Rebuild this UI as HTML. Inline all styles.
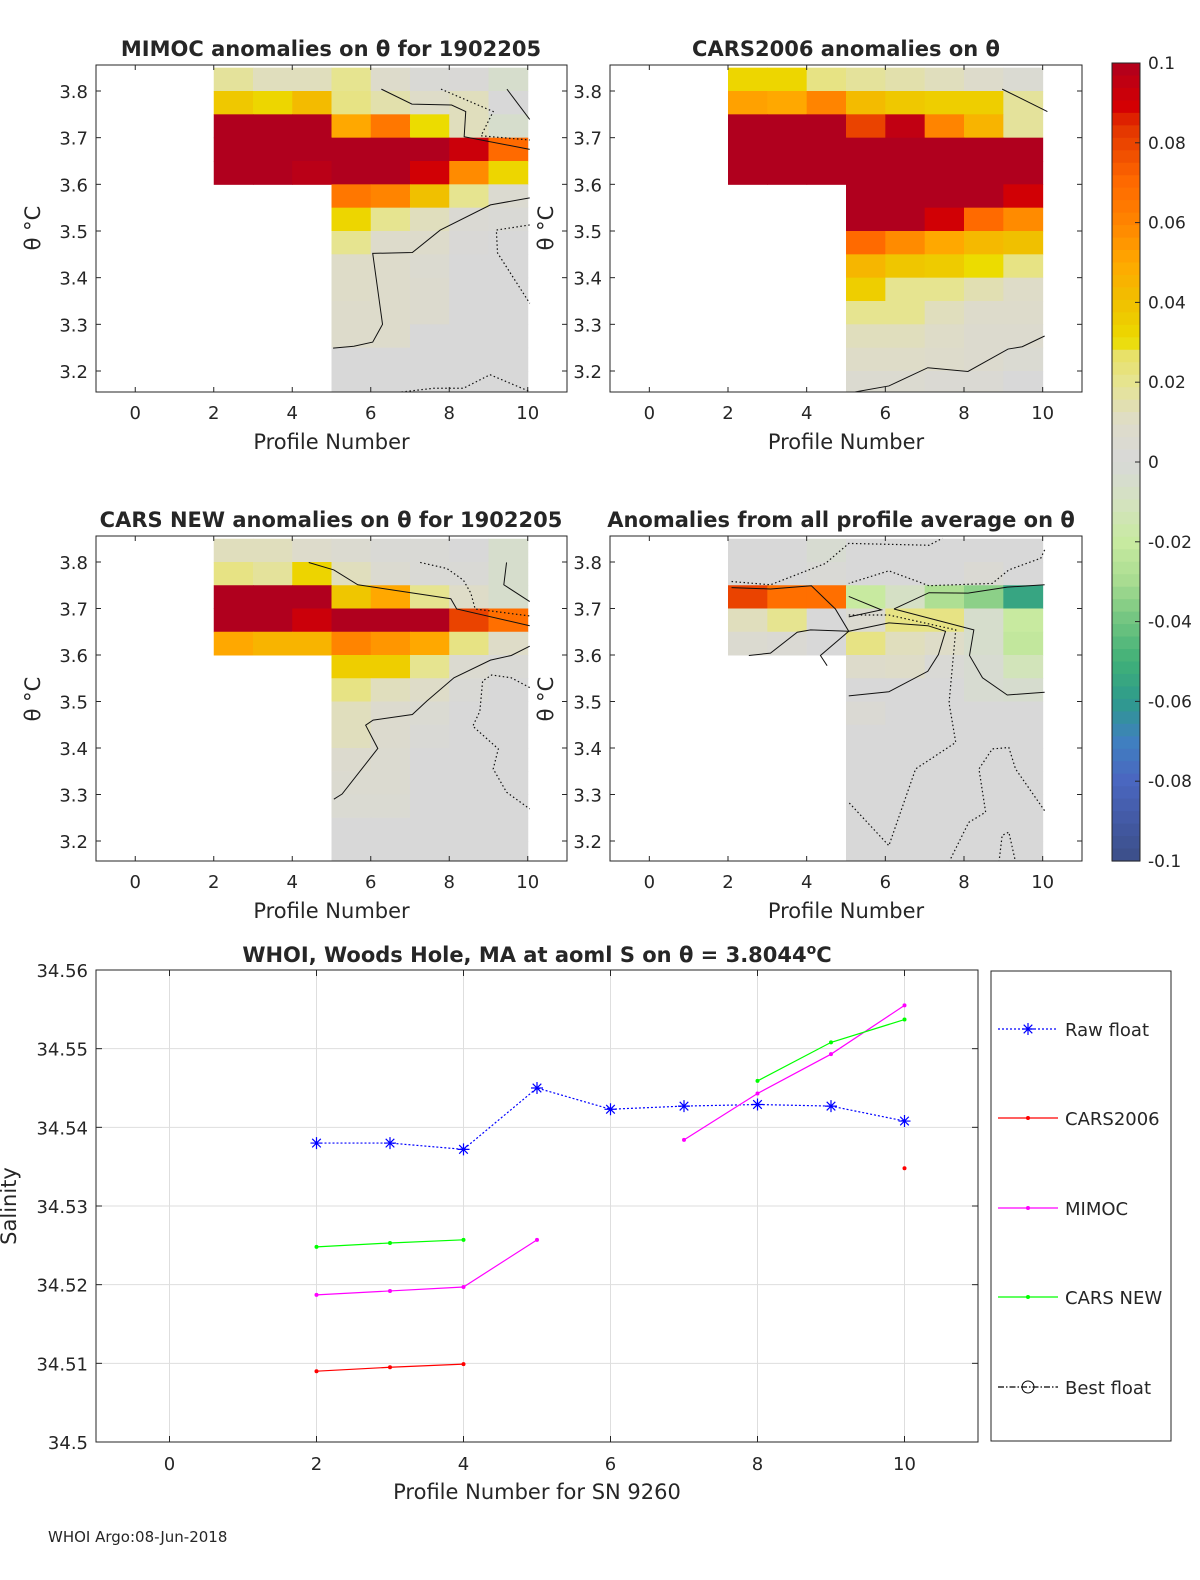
<!DOCTYPE html>
<html><head><meta charset="utf-8"><style>
body{margin:0;background:#fff;width:1200px;height:1575px;overflow:hidden}
svg text{font-family:"DejaVu Sans","Liberation Sans",sans-serif;fill:#262626}
</style></head><body>
<svg id="fig" width="1200" height="1575" viewBox="0 0 1200 1575" xmlns="http://www.w3.org/2000/svg"></svg>
<script>
// ---------- data ----------
const N = null;
const rowTops = [3.85,3.80,3.75,3.70,3.65,3.60,3.55,3.50,3.45,3.40,3.35,3.30,3.25,3.20];
const colStarts = [2,3,4,5,6,7,8,9];
const mimocVals = [
 [0.018,0.012,0.012,0.02,0.008,0.002,0.001,-0.005],
 [0.037,0.032,0.042,0.022,0.015,0.01,0.012,0.0],
 [0.1,0.1,0.1,0.05,0.065,0.03,0.012,-0.005],
 [0.1,0.1,0.1,0.1,0.1,0.1,0.092,0.07],
 [0.1,0.1,0.097,0.1,0.1,0.09,0.058,0.032],
 [N,N,N,0.065,0.06,0.04,0.02,0.005],
 [N,N,N,0.032,0.02,0.012,0.003,0.002],
 [N,N,N,0.02,0.008,0.008,0.001,0.0],
 [N,N,N,0.01,0.008,0.005,0.0,0.0],
 [N,N,N,0.01,0.008,0.006,0.0,0.0],
 [N,N,N,0.008,0.008,0.006,0.0,0.0],
 [N,N,N,0.008,0.008,0.0,0.0,0.0],
 [N,N,N,0.0,0.0,0.0,0.0,0.0],
 [N,N,N,0.0,0.0,0.0,0.0,0.0]];
const cars06Vals = [
 [0.032,0.032,0.022,0.018,0.015,0.012,0.008,0.004],
 [0.052,0.05,0.06,0.042,0.037,0.035,0.035,0.018],
 [0.1,0.1,0.1,0.08,0.095,0.06,0.045,0.018],
 [0.1,0.1,0.1,0.1,0.1,0.1,0.1,0.1],
 [0.1,0.1,0.1,0.1,0.1,0.1,0.1,0.1],
 [N,N,N,0.1,0.1,0.1,0.1,0.09],
 [N,N,N,0.1,0.1,0.09,0.07,0.058],
 [N,N,N,0.07,0.058,0.05,0.043,0.04],
 [N,N,N,0.044,0.038,0.036,0.03,0.022],
 [N,N,N,0.035,0.02,0.02,0.014,0.01],
 [N,N,N,0.02,0.02,0.012,0.008,0.008],
 [N,N,N,0.012,0.012,0.01,0.006,0.006],
 [N,N,N,0.01,0.01,0.008,0.006,0.004],
 [N,N,N,0.005,0.005,0.003,0.003,0.0]];
const carsNewVals = [
 [0.012,0.012,0.008,0.005,0.002,0.002,0.0,-0.005],
 [0.022,0.018,0.033,0.012,0.005,0.002,0.002,-0.005],
 [0.1,0.1,0.1,0.038,0.05,0.02,0.01,-0.005],
 [0.1,0.1,0.092,0.1,0.1,0.1,0.08,0.068],
 [0.05,0.045,0.045,0.06,0.055,0.05,0.022,0.01],
 [N,N,N,0.035,0.035,0.02,0.005,0.002],
 [N,N,N,0.022,0.012,0.01,0.002,0.0],
 [N,N,N,0.012,0.006,0.004,0.0,0.0],
 [N,N,N,0.012,0.006,0.002,0.0,0.0],
 [N,N,N,0.006,0.005,0.0,0.0,0.0],
 [N,N,N,0.005,0.005,0.0,0.0,0.0],
 [N,N,N,0.004,0.004,0.0,0.0,0.0],
 [N,N,N,0.0,0.0,0.0,0.0,0.0],
 [N,N,N,0.0,0.0,0.0,0.0,0.0]];
const avgVals = [
 [0.0,0.0,-0.003,0.0,0.0,0.0,0.0,0.0],
 [0.0,0.0,0.002,0.0,0.0,0.0,0.003,0.0],
 [0.08,0.068,0.068,-0.02,-0.008,-0.028,-0.035,-0.055],
 [0.012,0.02,0.0,0.005,0.022,0.022,-0.005,-0.02],
 [0.005,0.003,0.0,0.022,0.012,0.01,-0.005,-0.022],
 [N,N,N,0.008,0.01,0.002,-0.003,-0.012],
 [N,N,N,0.0,0.0,0.0,-0.003,-0.004],
 [N,N,N,0.003,0.0,0.0,0.0,0.0],
 [N,N,N,0.0,0.0,0.0,0.0,0.0],
 [N,N,N,0.0,0.0,0.0,0.0,0.0],
 [N,N,N,0.0,0.0,0.0,0.0,0.0],
 [N,N,N,0.0,0.0,0.0,0.0,0.0],
 [N,N,N,0.0,0.0,0.0,0.0,0.0],
 [N,N,N,0.0,0.0,0.0,0.0,0.0]];
// contours: [x,theta] pairs; solid / dotted
const c1Solid = [
 [[6.27,3.804],[7.05,3.772],[8.06,3.77],[8.42,3.756],[8.38,3.702],[10.05,3.675]],
 [[9.47,3.804],[10.05,3.739]],
 [[5.04,3.249],[5.57,3.253],[6.05,3.262],[6.3,3.30],[6.05,3.452],[7.06,3.454],[7.77,3.502],[9.05,3.556],[10.05,3.571]]];
const c1Dot = [
 [[7.79,3.804],[9.12,3.756],[8.81,3.704],[10.05,3.695]],
 [[10.05,3.513],[9.2,3.502],[9.23,3.453],[10.05,3.345]],
 [[6.58,3.153],[7.6,3.163],[8.36,3.163],[9.04,3.192],[10.05,3.156]]];
const c2Solid = [
 [[8.97,3.804],[10.12,3.756]],
 [[5.09,3.153],[6.09,3.168],[7.08,3.207],[8.1,3.199],[9.12,3.247],[9.48,3.252],[10.05,3.275]]];
const c2Dot = [];
const c3Solid = [
 [[4.42,3.799],[5.06,3.783],[5.67,3.751],[8.04,3.721],[8.19,3.699],[10.05,3.663]],
 [[9.46,3.799],[9.39,3.751],[10.05,3.715]],
 [[5.06,3.29],[5.27,3.301],[6.18,3.399],[5.87,3.449],[6.06,3.46],[7.06,3.472],[7.43,3.501],[8.12,3.551],[9.05,3.589],[9.58,3.599],[10.05,3.619]]];
const c3Dot = [
 [[7.26,3.799],[7.94,3.786],[8.36,3.761],[8.55,3.733],[8.66,3.699],[10.05,3.684]],
 [[10.05,3.53],[9.58,3.551],[9.08,3.557],[8.85,3.544],[8.78,3.479],[8.6,3.447],[9.25,3.398],[9.12,3.355],[9.46,3.305],[10.05,3.269]]];
const c4Solid = [
 [[2.09,3.745],[3.08,3.742],[4.12,3.749],[4.73,3.699],[5.07,3.651],[6.09,3.669],[7.08,3.663],[7.53,3.651],[7.35,3.601],[7.08,3.565],[6.09,3.521],[5.07,3.512]],
 [[5.07,3.726],[5.9,3.697],[5.07,3.682]],
 [[6.22,3.699],[7.11,3.734],[8.1,3.733],[9.1,3.746],[10.05,3.751]],
 [[6.22,3.699],[8.25,3.654],[8.14,3.599],[8.47,3.551],[9.1,3.514],[10.05,3.52]],
 [[2.53,3.599],[3.08,3.604],[3.76,3.649],[4.1,3.654],[5.07,3.651]],
 [[4.52,3.577],[4.35,3.599],[5.07,3.651]]];
const c4Dot = [
 [[2.09,3.758],[3.08,3.751],[4.48,3.797],[5.07,3.84],[7.11,3.836],[7.45,3.851]],
 [[10.05,3.826],[9.95,3.808],[9.14,3.783],[8.72,3.754],[7.11,3.749],[6.09,3.781],[5.07,3.754]],
 [[5.07,3.686],[6.09,3.686],[7.79,3.654],[7.62,3.497],[7.79,3.412],[6.77,3.355],[6.09,3.19],[5.07,3.283]],
 [[7.62,3.155],[8.12,3.24],[8.55,3.262],[8.38,3.355],[8.72,3.398],[9.14,3.401],[9.31,3.355],[10.05,3.265]],
 [[8.89,3.155],[8.97,3.212],[9.14,3.219],[9.31,3.155]]];
// bottom chart
const profiles = [2,3,4,5,6,7,8,9,10];
const rawFloat = [34.538,34.538,34.5372,34.545,34.5423,34.5427,34.5429,34.5427,34.5408];
const cars2006 = [34.5090,34.5095,34.5099,N,N,N,N,N,34.5348];
const mimoc    = [34.5187,34.5192,34.5197,34.5257,N,34.5384,34.5443,34.5493,34.5555];
const carsNew  = [34.5248,34.5253,34.5257,N,N,N,34.5459,34.5508,34.5537];
const xTicks = [0,2,4,6,8,10];
const thetaTicks = [3.2,3.3,3.4,3.5,3.6,3.7,3.8];
const salTicks = [34.5,34.51,34.52,34.53,34.54,34.55,34.56];
const cbTicks = [0.1,0.08,0.06,0.04,0.02,0,-0.02,-0.04,-0.06,-0.08,-0.1];
const cbLabels = ["0.1","0.08","0.06","0.04","0.02","0","-0.02","-0.04","-0.06","-0.08","-0.1"];

// ---------- helpers ----------
const NS="http://www.w3.org/2000/svg";
const svg=document.getElementById('fig');
function mk(tag,attrs,parent){const e=document.createElementNS(NS,tag);for(const k in attrs)e.setAttribute(k,attrs[k]);(parent||svg).appendChild(e);return e;}
function txt(s,x,y,size,anchor,parent,extra){const t=mk('text',Object.assign({x:x,y:y,'font-size':size,'text-anchor':anchor||'start'},extra||{}),parent);t.textContent=s;return t;}
const stops=[[0.1,[176,0,30]],[0.088,[216,0,0]],[0.085,[224,48,0]],[0.07,[255,106,0]],[0.06,[255,132,0]],[0.05,[255,168,0]],[0.04,[240,192,0]],[0.03,[236,220,0]],[0.028,[232,224,96]],[0.02,[230,228,144]],[0.01,[222,220,200]],[0,[216,216,216]],[-0.01,[212,226,192]],[-0.02,[200,234,160]],[-0.03,[168,220,144]],[-0.04,[112,196,128]],[-0.05,[64,176,120]],[-0.06,[46,154,140]],[-0.07,[64,128,192]],[-0.08,[74,102,192]],[-0.1,[60,78,136]]];
function cmap(v){v=Math.max(-0.1,Math.min(0.1,v));for(let i=0;i<stops.length-1;i++){const a=stops[i],b=stops[i+1];if(v<=a[0]&&v>=b[0]){const t=(a[0]-v)/(a[0]-b[0]);const c=a[1].map((q,j)=>Math.round(q+(b[1][j]-q)*t));return `rgb(${c[0]},${c[1]},${c[2]})`;}}return 'rgb(216,216,216)';}

function heatPanel(opt){
  const {L,T,W,H,y38,y32,vals,solid,dots,title,titleX,name,ylabX,ylabY,tickLabX}=opt;
  const g=mk('g',{});
  
  
  const X0=L+(0-(-1))*W/12; const sx=W/12;
  const xs=x=>L+(x+1)*sx;
  const ky=(y32-y38)/0.6; const ys=v=>y38+(3.8-v)*ky;
  const clipId=name+'-clip';
  const cp=mk('clipPath',{id:clipId},g);mk('rect',{x:L,y:T,width:W,height:H},cp);
  const cg=mk('g',{'clip-path':`url(#${clipId})`},g);
  vals.forEach((row,ri)=>row.forEach((v,ci)=>{if(v===null)return;
    const r=mk('rect',{x:xs(colStarts[ci]),y:ys(rowTops[ri]),width:sx+0.5,height:ky*0.05+0.5,fill:cmap(v)},cg);
    
    
  }));
  solid.forEach(p=>{const l=mk('polyline',{points:p.map(q=>xs(q[0])+','+ys(q[1])).join(' '),fill:'none',stroke:'#111','stroke-width':1},cg);
    
    });
  dots.forEach(p=>{const l=mk('polyline',{points:p.map(q=>xs(q[0])+','+ys(q[1])).join(' '),fill:'none',stroke:'#111','stroke-width':1.2,'stroke-dasharray':'1.5 2.5'},cg);
    
    });
  mk('rect',{x:L,y:T,width:W,height:H,fill:'none',stroke:'#262626','stroke-width':1},g);
  xTicks.forEach(t=>{const x=xs(t);mk('line',{x1:x,y1:T+H,x2:x,y2:T+H-5,stroke:'#262626'},g);mk('line',{x1:x,y1:T,x2:x,y2:T+5,stroke:'#262626'},g);
    const tl=txt(String(t),x,T+H+27,18,'middle',g);});
  thetaTicks.forEach(t=>{const y=ys(t);mk('line',{x1:L,y1:y,x2:L+5,y2:y,stroke:'#262626'},g);mk('line',{x1:L+W,y1:y,x2:L+W-5,y2:y,stroke:'#262626'},g);
    const tl=txt(t.toFixed(1),tickLabX,y+7,18,'end',g);});
  const xl=txt('Profile Number',L+W/2,T+H+57,21,'middle',g);
  const yl=txt('θ °C',0,0,21,'middle',g,{transform:`translate(${ylabX},${ylabY}) rotate(-90)`});
  const tt=txt(title,titleX,T-9,21,'middle',g,{'font-weight':'bold'});
}
heatPanel({L:96,T:65,W:471,H:327,y38:91,y32:371,vals:mimocVals,solid:c1Solid,dots:c1Dot,title:'MIMOC anomalies on θ  for 1902205',titleX:331,name:'mimoc-panel',ylabX:40,ylabY:228,tickLabX:88});
heatPanel({L:610,T:65,W:472,H:327,y38:91,y32:371,vals:cars06Vals,solid:c2Solid,dots:c2Dot,title:'CARS2006 anomalies on θ',titleX:846,name:'cars2006-panel',ylabX:553,ylabY:228,tickLabX:602});
heatPanel({L:96,T:536,W:471,H:325,y38:562,y32:841,vals:carsNewVals,solid:c3Solid,dots:c3Dot,title:'CARS NEW anomalies on θ for 1902205',titleX:331,name:'cars-new-panel',ylabX:40,ylabY:699,tickLabX:88});
heatPanel({L:610,T:536,W:472,H:325,y38:562,y32:841,vals:avgVals,solid:c4Solid,dots:c4Dot,title:'Anomalies from all profile average on θ',titleX:841,name:'average-panel',ylabX:553,ylabY:699,tickLabX:602});

// colorbar
(function(){
  const g=mk('g',{});
  
  
  const T=63,B=861,L=1112,W=28,n=64,h=(B-T)/n;
  for(let i=0;i<n;i++){const v=0.1-(i+0.5)*0.2/n;mk('rect',{x:L,y:T+i*h,width:W,height:h+0.6,fill:cmap(v)},g);}
  mk('rect',{x:L,y:T,width:W,height:B-T,fill:'none',stroke:'#262626'},g);
  cbTicks.forEach((t,i)=>{const y=T+(0.1-t)/0.2*(B-T);mk('line',{x1:L+W,y1:y,x2:L+W-5,y2:y,stroke:'#262626'},g);
    const tl=txt(cbLabels[i],1148,y+6,17,'start',g);});
})();

// bottom chart
(function(){
  const g=mk('g',{});
  
  
  const L=96,T=970,R=978,B=1442;
  const xs=x=>L+(x+1)*(R-L)/12;
  const ys=v=>B-(v-34.5)/0.06*(B-T);
  xTicks.forEach(t=>{const x=xs(t);mk('line',{x1:x,y1:T,x2:x,y2:B,stroke:'#dedede'},g);});
  salTicks.forEach(t=>{const y=ys(t);mk('line',{x1:L,y1:y,x2:R,y2:y,stroke:'#dedede'},g);});
  mk('rect',{x:L,y:T,width:R-L,height:B-T,fill:'none',stroke:'#262626'},g);
  xTicks.forEach(t=>{const x=xs(t);mk('line',{x1:x,y1:B,x2:x,y2:B-6,stroke:'#262626'},g);mk('line',{x1:x,y1:T,x2:x,y2:T+6,stroke:'#262626'},g);
    const tl=txt(String(t),x,B+28,18,'middle',g);});
  salTicks.forEach(t=>{const y=ys(t);mk('line',{x1:L,y1:y,x2:L+6,y2:y,stroke:'#262626'},g);mk('line',{x1:R,y1:y,x2:R-6,y2:y,stroke:'#262626'},g);
    const tl=txt(t===34.5?'34.5':t.toFixed(2),88,y+7,18,'end',g);});
  function series(vals,color,dash,name){
    let seg=[];const segs=[];
    vals.forEach((v,i)=>{if(v===null){if(seg.length)segs.push(seg);seg=[];}else seg.push([xs(profiles[i]),ys(v)]);});
    if(seg.length)segs.push(seg);
    segs.forEach(s=>{if(s.length>1){const l=mk('polyline',{points:s.map(p=>p.join(',')).join(' '),fill:'none',stroke:color,'stroke-width':1.2,'stroke-dasharray':dash||'none'},g);
      
      }});
  }
  series(rawFloat,'#0000ff','2 2','raw-float');
  series(cars2006,'#ff0000',null,'cars2006');
  series(mimoc,'#ff00ff',null,'mimoc');
  series(carsNew,'#00ff00',null,'cars-new');
  [[cars2006,'#ff0000'],[mimoc,'#ff00ff'],[carsNew,'#00ff00']].forEach(([vals,c])=>vals.forEach((v,i)=>{if(v===null)return;
    const d=mk('circle',{cx:xs(profiles[i]),cy:ys(v),r:2,fill:c},g);}));
  rawFloat.forEach((v,i)=>{const x=xs(profiles[i]),y=ys(v),s=6;
    const m=mk('path',{d:`M${x-s},${y}H${x+s}M${x},${y-s}V${y+s}M${x-4.3},${y-4.3}L${x+4.3},${y+4.3}M${x-4.3},${y+4.3}L${x+4.3},${y-4.3}`,stroke:'#0000ff','stroke-width':1.2,fill:'none'},g);
    
    });
  const tt=txt('',537,962,21,'middle',g,{'font-weight':'bold'});
  
  tt.innerHTML='WHOI, Woods Hole, MA at aoml S on θ = 3.8044<tspan dy="-8" font-size="14">o</tspan><tspan dy="8">C</tspan>';
  const xl=txt('Profile Number for SN 9260',537,1499,21,'middle',g);
  const yl=txt('Salinity',0,0,21,'middle',g,{transform:'translate(16,1206) rotate(-90)'});
  // legend
  const lg=mk('g',{},g);
  
  
  mk('rect',{x:991,y:971,width:180,height:470,fill:'#fff',stroke:'#262626'},lg);
  const entries=[['Raw float','#0000ff','2 2','star',1029],['CARS2006','#ff0000','none','dot',1118],['MIMOC','#ff00ff','none','dot',1208],['CARS NEW','#00ff00','none','dot',1297],['Best float','#000','6 2 1.5 2','circle',1387]];
  entries.forEach(([lab,c,dash,mark,y])=>{
    const e=mk('g',{},lg);
    
    
    mk('line',{x1:998,y1:y,x2:1058,y2:y,stroke:c,'stroke-width':1.2,'stroke-dasharray':dash},e);
    if(mark==='star'){const x=1028,s=6;mk('path',{d:`M${x-s},${y}H${x+s}M${x},${y-s}V${y+s}M${x-4.3},${y-4.3}L${x+4.3},${y+4.3}M${x-4.3},${y+4.3}L${x+4.3},${y-4.3}`,stroke:c,'stroke-width':1.2},e);}
    else if(mark==='dot'){mk('circle',{cx:1028,cy:y,r:2,fill:c},e);}
    else {mk('circle',{cx:1028,cy:y,r:6,fill:'none',stroke:c},e);}
    txt(lab,1065,y+7,18,'start',e);
  });
})();
const ft=txt('WHOI Argo:08-Jun-2018',48,1542,15,'start');


</script>
</body></html>
